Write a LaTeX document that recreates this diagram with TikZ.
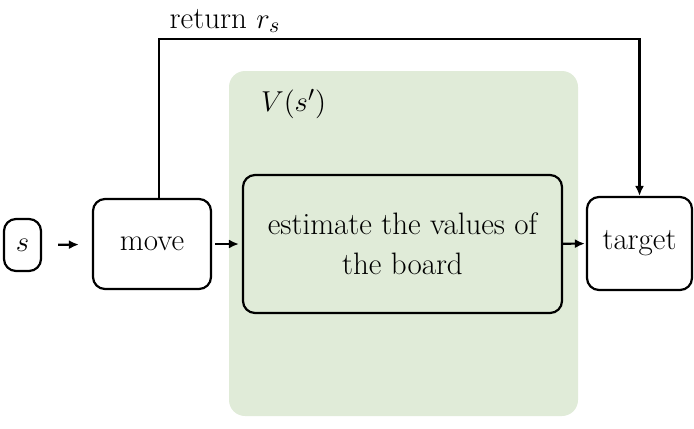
\documentclass[tikz,border=0pt]{standalone}
\usetikzlibrary{arrows.meta}
\definecolor{panelgreen}{HTML}{E0EBD8}
\begin{document}
\begin{tikzpicture}[x=0.5pt,y=-0.5pt,
  every node/.style={font=\fontsize{15.5}{20}\selectfont},
  box/.style={draw, line width=1.1pt, rounded corners=6pt, inner sep=0pt, align=center},
  arr/.style={-{Latex[length=5pt,width=4.5pt]}, line width=1.1pt}]
\useasboundingbox (0,0) rectangle (694,428);
\fill[panelgreen, rounded corners=8pt] (229,71) rectangle (578,416);
\node[anchor=west] (v) at (254,104) {$V(s')$};
\node[box, minimum width=18.5pt, minimum height=26pt] (s) at (22.5,245) {$s$};
\node[box, minimum width=59pt, minimum height=45pt] (move) at (152,244) {move};
\node[box, fill=panelgreen, minimum width=159.5pt, minimum height=69pt] (est) at (402.5,244) {estimate the values of\\the board};
\node[box, minimum width=52.5pt, minimum height=46.5pt] (target) at (639.5,243.5) {target};
\coordinate (top) at (400,39);
\node (ret) at (225,21) {return $r_s$};
\draw[arr, shorten <=8pt, shorten >=6.5pt] (s) -- (move);
\draw[arr, shorten <=1.5pt, shorten >=1.5pt] (move) -- (est);
\draw[arr, shorten >=0.5pt] (est) -- (target);
\draw[arr] ([xshift=3.5pt]move.north) |- (top) -| (target.north);
\end{tikzpicture}
\end{document}
